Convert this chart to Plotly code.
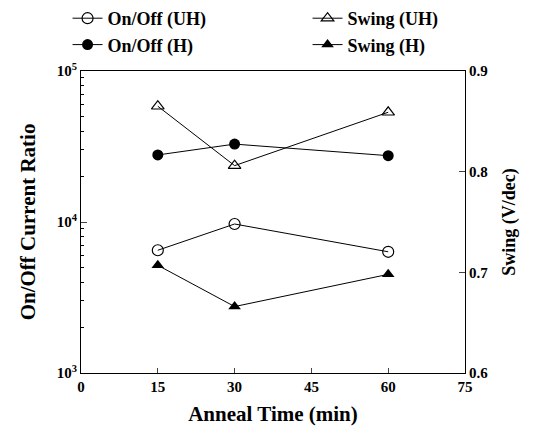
import plotly.graph_objects as go

anneal_time = [15, 30, 60]
onoff_uh = [6500, 9700, 6350]
onoff_h = [27800, 32800, 27500]
swing_uh = [0.865, 0.806, 0.859]
swing_h = [0.707, 0.666, 0.698]

font = "Liberation Serif"
fig = go.Figure()
fig.add_trace(go.Scatter(x=anneal_time, y=onoff_uh, name="<b>On/Off (UH)</b>", mode="lines+markers",
                         legend="legend",
                         line=dict(color="black", width=1),
                         marker=dict(symbol="circle-open", size=11, color="black", line=dict(width=1.2))))
fig.add_trace(go.Scatter(x=anneal_time, y=onoff_h, name="<b>On/Off (H)</b>", mode="lines+markers",
                         legend="legend",
                         line=dict(color="black", width=1),
                         marker=dict(symbol="circle", size=11, color="black")))
fig.add_trace(go.Scatter(x=anneal_time, y=swing_uh, name="<b>Swing (UH)</b>", mode="lines+markers", yaxis="y2",
                         legend="legend2",
                         line=dict(color="black", width=1),
                         marker=dict(symbol="triangle-up-open", size=11, color="black", line=dict(width=1.2))))
fig.add_trace(go.Scatter(x=anneal_time, y=swing_h, name="<b>Swing (H)</b>", mode="lines+markers", yaxis="y2",
                         legend="legend2",
                         line=dict(color="black", width=1),
                         marker=dict(symbol="triangle-up", size=11, color="black")))

minor_vals = [m * 10 ** e for e in (3, 4) for m in range(2, 10)]
legend_common = dict(orientation="v", xref="paper", yref="container", xanchor="left",
                     yanchor="top", y=1.0,
                     font=dict(size=18, family=font), tracegroupgap=0, itemwidth=30,
                     bgcolor="rgba(0,0,0,0)", borderwidth=0)
fig.update_layout(
    width=551, height=426,
    margin=dict(l=81, r=86, t=71, b=53, autoexpand=False),
    paper_bgcolor="white", plot_bgcolor="white",
    font=dict(family=font, color="black", size=15),
    showlegend=True,
    legend=dict(x=-0.035, **legend_common),
    legend2=dict(x=0.59, **legend_common),
    xaxis=dict(range=[0, 75], tickvals=[0, 15, 30, 45, 60, 75], ticks="inside", ticklen=5,
               showline=True, linecolor="black", linewidth=1, mirror=True, showgrid=False, zeroline=False,
               tickfont=dict(size=15, family=font), automargin=False,
               ticktext=["<b>%d</b>" % v for v in [0, 15, 30, 45, 60, 75]],
               title=dict(text="<b>Anneal Time (min)</b>", font=dict(size=21, family=font))),
    yaxis=dict(type="log", range=[3, 5], tickvals=[1e3, 1e4, 1e5],
               ticktext=["<b>10<sup>3</sup></b>", "<b>10<sup>4</sup></b>", "<b>10<sup>5</sup></b>"],
               ticks="inside", ticklen=6, showline=True, linecolor="black", linewidth=1, showgrid=False,
               minor=dict(tickvals=minor_vals, ticks="inside", ticklen=3, tickcolor="black", showgrid=False),
               tickfont=dict(size=15, family=font), automargin=False,
               title=dict(text="<b>On/Off Current Ratio</b>", font=dict(size=21, family=font))),
    yaxis2=dict(overlaying="y", side="right", range=[0.6, 0.9], tickvals=[0.6, 0.7, 0.8, 0.9],
                ticktext=["<b>0.6</b>", "<b>0.7</b>", "<b>0.8</b>", "<b>0.9</b>"],
                ticks="inside", ticklen=6, showline=True, linecolor="black", linewidth=1, showgrid=False,
                zeroline=False, tickfont=dict(size=15, family=font), automargin=False,
                title=dict(text="<b>Swing (V/dec)</b>", font=dict(size=18, family=font))),
)
fig.write_html("out.html")
